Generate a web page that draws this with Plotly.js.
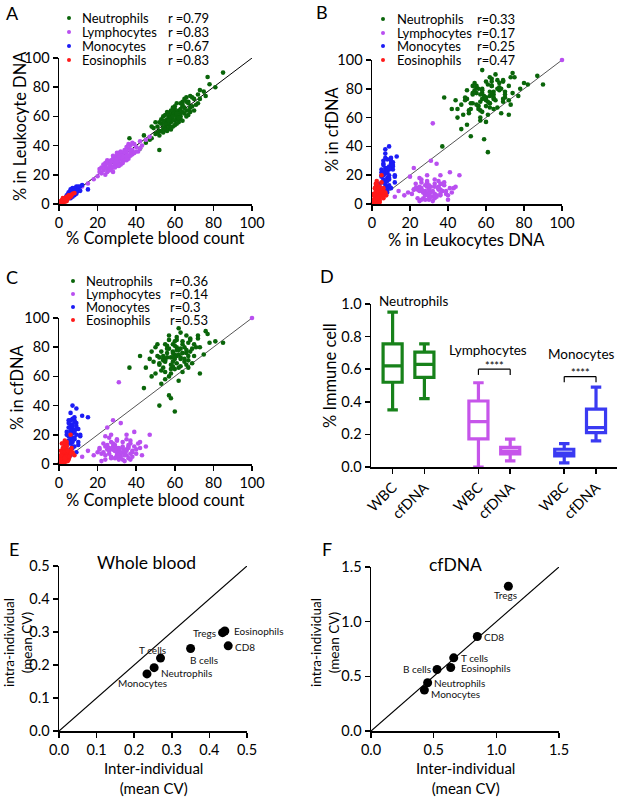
<!DOCTYPE html>
<html><head><meta charset="utf-8">
<script src="https://cdn.plot.ly/plotly-3.0.1.min.js"></script>
<style>html,body{margin:0;padding:0;background:#fff}</style>
</head><body><div id="plot" style="width:617px;height:798px"></div>
<script>
// ---------- DATA ----------
const groupNames = ["Neutrophils","Lymphocytes","Monocytes","Eosinophils"];
// per-individual values: % complete blood count, % in leukocyte DNA, % in cfDNA
const neutCBC = [60,55,65,58,62,50,70,57,63,53,67,60,48,72,56,64,59,61,54,66,52,68,58,63,45,75,57,62,51,69,60,55,65,59,47,78,64,53,61,56,71,58,66,52,60,85,42,44,62,73,57,68,54,49,63,76,59,67,55,61,52,36.5,81,77,
  58,61,64,56,67,53,60,62,57,65,59,63,55,68,50,66,61,54,70,57,64,59,62,52,69,56,60,73,48,63,58,66,61,55,67,54,72,59,64,51];
const neutWBC = [62,53,66,56,64,48,72,60,60,55,70,57,45,75,58,67,62,58,52,64,50,66,61,65,42,77,54,60,53,73,65,57,62,58,44,82,68,50,63,55,68,59,70,56,61,90,38,47,58,72,52,63,60,52,62,74,63,69,51,60,37,45,80,87,
  64,55,70,50,61,58,67,56,62,72,53,58,61,74,56,60,69,49,64,57,63,66,59,47,67,63,54,78,53,69,51,73,62,55,64,57,69,60,57,49];
const neutCf  = [75,70,80,68,78,62,82,85,72,77,74,65,60,88,73,84,70,80,66,76,73,86,62,90,66,75,79,57,82,69,72,58,70,77,72,83,63,55,87,81,80,45,78,68,36,83,74,52,93,62,47,85,74,70,67,91,82,71,63,74,40,66,84,89,
  73,69,76,79,83,64,81,66,88,72,76,79,71,77,80,68,85,72,74,60,82,67,75,69,79,76,84,80,77,73,65,88,78,82,66,71,86,73,76,74];

const lymCBC = [30,25,35,28,32,38,22,27,33,29,36,24,31,40,26,34,20,37,30,28,42,23,35,31,18,45,33,27,39,29,25,36,15,47,32,26,41,21,34,30,12,43,24,37,31,28,35,38,22,33,
  29,34,26,31,36,24,38,28,32,30,35,27,33,40,23,37,31,25,34,29,42,21,36,30,27,33,39,26,32,35,28,24,31,37,30];
const lymWBC = [30,24,34,29,31,37,21,26,35,27,38,26,28,39,25,32,19,35,33,25,43,23,36,30,17,44,31,30,41,28,22,33,14,46,34,28,36,24,37,26,12,40,20,40,32,31,30,42,25,29,
  32,30,23,35,31,28,34,33,27,29,39,24,33,36,27,33,26,30,36,25,38,22,41,31,29,28,35,27,36,33,22,25,33,37,35];
const lymCf  = [8,10,6,12,5,9,7,15,11,4,13,3,9,7,18,2,8,16,6,10,11,14,20,3,6,12,8,5,22,13,25,4,9,20,28,7,14,11,9,17,5,6,19,3,56,30,10,8,2,15,
  9,7,11,10,12,6,5,14,8,16,9,4,12,10,8,7,11,13,6,9,15,10,11,5,20,3,12,9,7,17,10,12,6,14,11];

const monoCBC = [6,7,5,8,6,9,7,4,8,6,10,5,7,9,6,11,8,5,7,3,9,6,12,8,7,4,10,6,8,15,5,7,9,3,11,
  6,7,5,8,6,7,9,5,6,8,7,4,10,6,7,8,5,9,6,7];
const monoWBC = [7,8,6,9,5,10,6,5,7,8,11,4,9,8,6,12,10,7,7,4,11,4,13,6,5,3,9,7,8,10,6,10,7,3,9,
  8,9,5,11,7,8,12,8,9,7,11,6,12,10,7,9,7,9,6,8];
const monoCf  = [25,18,30,12,22,28,15,20,32,10,24,14,40,8,27,19,30,16,21,12,26,6,33,17,24,9,13,35,22,32,28,11,38,5,20,
  23,26,19,29,14,31,20,25,17,23,27,22,15,30,12,18,9,24,20,16];

const eosCBC = [2,3,1,4,2,5,3,1.5,6,2.5,4,3,1,5,2,7,3.5,0.5,4,2,6,3,1.5,5,2.5,8,4.5,1,3,6.5,2,4,
  3,2,4,1,3,5,2.5,1.5,4,3,2,6,3.5,2.5,1,4.5,3,2,5.5,3];
const eosWBC = [2,3,1,4,3,5,2,1,6,2,5,4,2,4,1.5,7,3,0.5,3,2.5,5,3.5,2,6,3,7.5,4,1.5,2.5,6,4,2,
  2.5,3,3.5,1.5,4,4.5,1.5,2.5,4,3,2,5.5,4,3.5,0.8,5,1.5,2.5,6,3];
const eosCf  = [5,8,3,10,2,6,12,7,9,4,15,1,9,3,11,8,6,1,13,0.5,20,7,14,4,9,6,2,5,16,11,8,5,
  3,6,7,2,10,8,5,4,12,9,1,7,5,11,6,9,3,14,5,4];

const extraPoint = {x:[100], y:[100]};          // purple point at the end of the identity line (B, C)
const rA = ["r =0.79","r =0.83","r =0.67","r =0.83"];
const rB = ["r=0.33","r=0.17","r=0.25","r=0.47"];
const rC = ["r=0.36","r=0.14","r=0.3","r=0.53"];

// Panel D box statistics
const boxLabels = ["WBC","cfDNA","WBC","cfDNA","WBC","cfDNA"];
const boxCells  = ["Neutrophils","Neutrophils","Lymphocytes","Lymphocytes","Monocytes","Monocytes"];
const boxLow    = [0.35, 0.42, 0.0, 0.037, 0.025, 0.16];
const boxQ1     = [0.52, 0.55, 0.172, 0.08, 0.068, 0.211];
const boxMed    = [0.62, 0.63, 0.278, 0.097, 0.086, 0.242];
const boxQ3     = [0.755, 0.705, 0.405, 0.12, 0.109, 0.355];
const boxHigh   = [0.95, 0.755, 0.517, 0.171, 0.144, 0.49];

// Panels E / F : mean CV
const cvCells   = ["Monocytes","Neutrophils","T cells","B cells","Tregs","Eosinophils","CD8"];
const wbInter   = [0.234, 0.253, 0.270, 0.350, 0.435, 0.441, 0.450];
const wbIntra   = [0.173, 0.192, 0.221, 0.250, 0.298, 0.303, 0.258];
const cfCells   = ["Monocytes","Neutrophils","B cells","Eosinophils","T cells","CD8","Tregs"];
const cfInter   = [0.426, 0.452, 0.527, 0.636, 0.660, 0.848, 1.096];
const cfIntra   = [0.374, 0.441, 0.563, 0.581, 0.669, 0.864, 1.324];

// ---------- STYLE ----------
const F = 'Lato, "Open Sans", sans-serif';
const W = 617, H = 798;
const px = v => v / W, py = v => 1 - v / H;
const scatCol = ["#0a650a","#b94ff0","#1c1cf5","#ff1a1a"];
const boxCol  = ["#17821a","#17821a","#c655ea","#c655ea","#3a3af2","#3a3af2"];
// label placement for E / F (anchor, x offset px, y offset px downward)
const eLab = [['center',-4,9],['left',5,5.5],['center',-8,-8],['center',13,11],['right',-5,0],['left',7,0],['left',5,1.5]];
const fLab = [['left',5,4],['left',4,0.5],['right',-4,0],['left',8,1],['left',5,0],['left',5,0.5],['center',-3,9]];

function ax(d0, d1, range, extra) {
  return Object.assign({
    domain:[d0,d1], range:range, showline:true, linecolor:'#000', linewidth:1.5,
    ticks:'outside', ticklen:5, tickwidth:1.5, tickcolor:'#000', showgrid:false,
    zeroline:false, fixedrange:true, tickfont:{family:F,size:14.5,color:'#000'}
  }, extra);
}

const data = [];
const groups = [
  {c:neutCBC,w:neutWBC,f:neutCf},
  {c:lymCBC,w:lymWBC,f:lymCf},
  {c:monoCBC,w:monoWBC,f:monoCf},
  {c:eosCBC,w:eosWBC,f:eosCf}
];
const idLine = [0,100];
data.push({x:idLine,y:idLine,xaxis:'x',yaxis:'y',mode:'lines',line:{color:'#000',width:1},hoverinfo:'skip'});
data.push({x:idLine,y:idLine,xaxis:'x2',yaxis:'y2',mode:'lines',line:{color:'#555',width:1},hoverinfo:'skip'});
data.push({x:idLine,y:idLine,xaxis:'x3',yaxis:'y3',mode:'lines',line:{color:'#555',width:1},hoverinfo:'skip'});
const panels = [['x','y','c','w'],['x2','y2','w','f'],['x3','y3','c','f']];
panels.forEach(p => {
  groups.forEach((g,i) => {
    data.push({x:g[p[2]], y:g[p[3]], xaxis:p[0], yaxis:p[1], mode:'markers', type:'scatter',
      name:groupNames[i], cliponaxis:false, marker:{color:scatCol[i], size:4.6}});
  });
});
data.push({x:extraPoint.x,y:extraPoint.y,xaxis:'x2',yaxis:'y2',mode:'markers',cliponaxis:false,marker:{color:scatCol[1],size:4.6}});
data.push({x:extraPoint.x,y:extraPoint.y,xaxis:'x3',yaxis:'y3',mode:'markers',cliponaxis:false,marker:{color:scatCol[1],size:4.6}});

// Panel D boxes
const boxPos = [0,1,2.7,3.7,5.4,6.4];
boxPos.forEach((p,i) => {
  data.push({type:'box', xaxis:'x4', yaxis:'y4', x:[p], q1:[boxQ1[i]], median:[boxMed[i]], q3:[boxQ3[i]],
    lowerfence:[boxLow[i]], upperfence:[boxHigh[i]], name:boxCells[i]+' '+boxLabels[i],
    width:0.6, whiskerwidth:0.55, fillcolor:'rgba(0,0,0,0)', line:{color:boxCol[i],width:3.2}, boxpoints:false});
});

// Panels E/F
const eLine = [0,0.5], fLine = [0,1.5];
data.push({x:eLine,y:eLine,xaxis:'x5',yaxis:'y5',mode:'lines',line:{color:'#000',width:1.2},hoverinfo:'skip'});
data.push({x:fLine,y:fLine,xaxis:'x6',yaxis:'y6',mode:'lines',line:{color:'#000',width:1.2},hoverinfo:'skip'});
data.push({x:wbInter,y:wbIntra,text:cvCells,xaxis:'x5',yaxis:'y5',mode:'markers',cliponaxis:false,marker:{color:'#000',size:9}});
data.push({x:cfInter,y:cfIntra,text:cfCells,xaxis:'x6',yaxis:'y6',mode:'markers',cliponaxis:false,marker:{color:'#000',size:9}});

// ---------- LAYOUT ----------
const layout = {
  width:W, height:H, margin:{l:0,r:0,t:0,b:0}, showlegend:false,
  paper_bgcolor:'#fff', plot_bgcolor:'rgba(0,0,0,0)', font:{family:F,color:'#000'},
  xaxis: ax(px(59),px(252),[0,100],{anchor:'y',dtick:20}),
  yaxis: ax(py(204),py(58),[0,100],{anchor:'x',dtick:20}),
  xaxis2: ax(px(372),px(562),[0,100],{anchor:'y2',dtick:20}),
  yaxis2: ax(py(204),py(60),[0,100],{anchor:'x2',dtick:20}),
  xaxis3: ax(px(59),px(252),[0,100],{anchor:'y3',dtick:20}),
  yaxis3: ax(py(464),py(318),[0,100],{anchor:'x3',dtick:20}),
  xaxis4: ax(px(371),px(617),[-0.68,7.06],{anchor:'y4',tickvals:boxPos,ticktext:boxLabels,tickangle:-45}),
  yaxis4: ax(py(467),py(304),[0,1],{anchor:'x4',dtick:0.2,tickformat:'.1f'}),
  xaxis5: ax(px(59),px(247),[0,0.5],{anchor:'y5',dtick:0.1,tickformat:'.1f'}),
  yaxis5: ax(py(731),py(566),[0,0.5],{anchor:'x5',dtick:0.1,tickformat:'.1f'}),
  xaxis6: ax(px(371),px(559),[0,1.5],{anchor:'y6',dtick:0.5,tickformat:'.1f'}),
  yaxis6: ax(py(731),py(567),[0,1.5],{anchor:'x6',dtick:0.5,tickformat:'.1f'}),
  annotations: [], shapes: []
};
const ann = (x,y,text,size,extra) => layout.annotations.push(Object.assign({xref:'paper',yref:'paper',x:px(x),y:py(y),text:text,showarrow:false,xanchor:'center',yanchor:'middle',font:{family:F,size:size,color:'#000'}},extra||{}));

// panel letters
[['A',12,13],['B',322,12],['C',12,277],['D',327,276],['E',14,549],['F',327,549]].forEach(l=>ann(l[1],l[2],l[0],18));

// axis titles
ann(156,238,'% Complete blood count',16.5);
ann(20,126,'% in Leukocyte DNA',16.5,{textangle:-90});
ann(466,240,'% in Leukocytes DNA',16.5);
ann(332,129,'% in cfDNA',16.5,{textangle:-90});
ann(156,500,'% Complete blood count',16.5);
ann(17,387,'% in cfDNA',16.5,{textangle:-90});
ann(330,375,'% Immune cell',16.5,{textangle:-90});
ann(153,778,'Inter-individual<br>(mean CV)',15);
ann(465,778,'Inter-individual<br>(mean CV)',15);
ann(18,643,'intra-individual<br>(mean CV)',13.5,{textangle:-90});
ann(325,643,'intra-individual<br>(mean CV)',13.5,{textangle:-90});

// legends (A, B, C)
const legs = [
  {dot:69, txt:80, r:166, rows:[18,32,46,60], rv:rA},
  {dot:383, txt:395, r:475, rows:[19,33,46,60], rv:rB},
  {dot:73, txt:84, r:168, rows:[281,294,307,320], rv:rC}
];
legs.forEach(L => {
  L.rows.forEach((y,i) => {
    layout.shapes.push({type:'circle',xref:'paper',yref:'paper',x0:px(L.dot-2),x1:px(L.dot+2),y0:py(y+2),y1:py(y-2),fillcolor:scatCol[i],line:{width:0}});
    ann(L.txt,y,groupNames[i],13,{xanchor:'left'});
    ann(L.r,y,L.rv[i],13,{xanchor:'left'});
  });
});

// E / F point labels
const labFont = {family:F,size:10,color:'#111'};
cvCells.forEach((t,i) => layout.annotations.push({xref:'x5',yref:'y5',x:wbInter[i],y:wbIntra[i],text:t,showarrow:false,
  xanchor:eLab[i][0],yanchor:'middle',xshift:eLab[i][1],yshift:-eLab[i][2],font:labFont}));
cfCells.forEach((t,i) => layout.annotations.push({xref:'x6',yref:'y6',x:cfInter[i],y:cfIntra[i],text:t,showarrow:false,
  xanchor:fLab[i][0],yanchor:'middle',xshift:fLab[i][1],yshift:-fLab[i][2],font:labFont}));

// Panel D labels and significance brackets
const dAnn = (x,y,text,size,extra) => layout.annotations.push(Object.assign({xref:'x4',yref:'y4',x:x,y:y,text:text,showarrow:false,xanchor:'center',yanchor:'middle',font:{family:F,size:size,color:'#000'}},extra||{}));
ann(413,301,'Neutrophils',13.5);
dAnn(3.0,0.715,'Lymphocytes',13.5);
dAnn(5.95,0.695,'Monocytes',13.5);
const sig = [[boxPos[2],boxPos[3],0.60],[boxPos[4],boxPos[5],0.555]];
sig.forEach(s => {
  const st = {color:'#000',width:1.2};
  layout.shapes.push({type:'line',xref:'x4',yref:'y4',x0:s[0],x1:s[1],y0:s[2],y1:s[2],line:st});
  layout.shapes.push({type:'line',xref:'x4',yref:'y4',x0:s[0],x1:s[0],y0:s[2],y1:s[2]-0.035,line:st});
  layout.shapes.push({type:'line',xref:'x4',yref:'y4',x0:s[1],x1:s[1],y0:s[2],y1:s[2]-0.035,line:st});
  dAnn((s[0]+s[1])/2,s[2]+0.025,'****',11);
});

// E / F titles
ann(146,562,'Whole blood',17.5);
ann(455,564,'cfDNA',17.5);

Plotly.newPlot('plot', data, layout, {staticPlot:true, displayModeBar:false});
</script>
</body></html>
